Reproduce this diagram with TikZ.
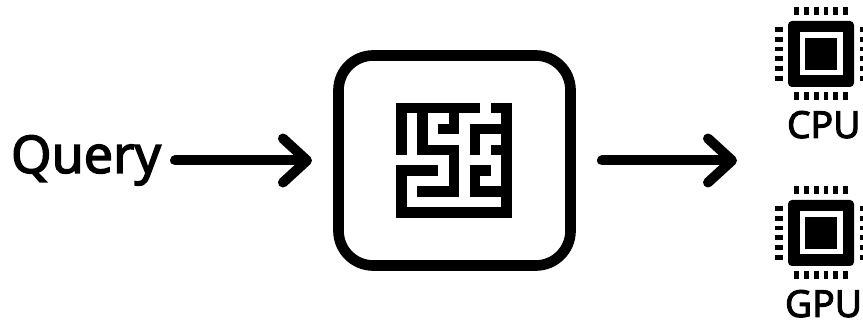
\documentclass[tikz,border=0pt]{standalone}
\usepackage{fontspec}
\newfontfamily\labelfont[FakeBold=2.6]{Noto Sans}
\usetikzlibrary{positioning,arrows.meta}

\begin{document}
\begin{tikzpicture}[
  x=0.75pt, y=-0.75pt,
  every node/.style={inner sep=0pt, outer sep=0pt},
  querytext/.style={font=\labelfont\fontsize{39}{42}\selectfont, anchor=base west},
  chiptext/.style={font=\labelfont\fontsize{28}{30}\selectfont, anchor=base west},
  engine/.style={rectangle, draw, line width=8pt, rounded corners=26pt,
                 minimum width=174pt, minimum height=157.5pt},
  arrow/.style={-{Straight Barb[length=18pt, width=33pt, round, line width=7.5pt]},
                line width=7.5pt, line cap=round},
  wall/.style={line width=8pt, line cap=rect, line join=miter},
  chip/.pic={
    \fill[rounded corners=3pt] (-33,-33) rectangle (33,33);
    \fill[white] (-21.5,-21.5) rectangle (21.5,21.5);
    \fill (-16,-16) rectangle (16,16);
    \foreach \k in {-2.5,-1.5,-0.5,0.5,1.5,2.5} {
      \fill (\k*9.8-2.4,-46.5) rectangle (\k*9.8+2.4,-38.5);
      \fill (\k*9.8-2.4,38.5) rectangle (\k*9.8+2.4,46.5);
      \fill (-46.5,\k*9.8-2.4) rectangle (-38.5,\k*9.8+2.4);
      \fill (38.5,\k*9.8-2.4) rectangle (46.5,\k*9.8+2.4);
    }
  }
]
  \useasboundingbox (0,0) rectangle (863,327);

  \node[querytext] (query) at (11,173) {Query};
  \node[engine] (maze) at (454.5,160.5) {};
  \coordinate (out) at (737,160.5);

  \draw[arrow, shorten <=10.5pt, shorten >=19.9pt] (query.east |- maze.west) -- (maze.west);
  \draw[arrow, shorten <=23.6pt] (maze.east) -- (out);

  % maze walls, on a grid of 10.47 px
  \begin{scope}[shift={(401.7,108)}, x=7.85pt, y=-7.85pt]
    \draw[wall] (7,0) -- (0,0) -- (0,4);
    \draw[wall] (2,0) -- (2,4) -- (5,4) -- (5,8) -- (2,8);
    \draw[wall] (5,0) -- (5,2) -- (4,2);
    \draw[wall] (9,0) -- (10,0) -- (10,10) -- (0,10) -- (0,6) -- (3,6);
    \draw[wall] (10,2) -- (7,2) -- (7,4);
    \draw[wall] (10,4) -- (9,4);
    \draw[wall] (8,6) -- (7,6) -- (7,8) -- (10,8);
  \end{scope}

  \pic at (821,54) {chip};
  \pic at (821,233) {chip};
  \node[chiptext] (cpu) at (787,138) {CPU};
  \node[chiptext] (gpu) at (785,317) {GPU};
\end{tikzpicture}
\end{document}
